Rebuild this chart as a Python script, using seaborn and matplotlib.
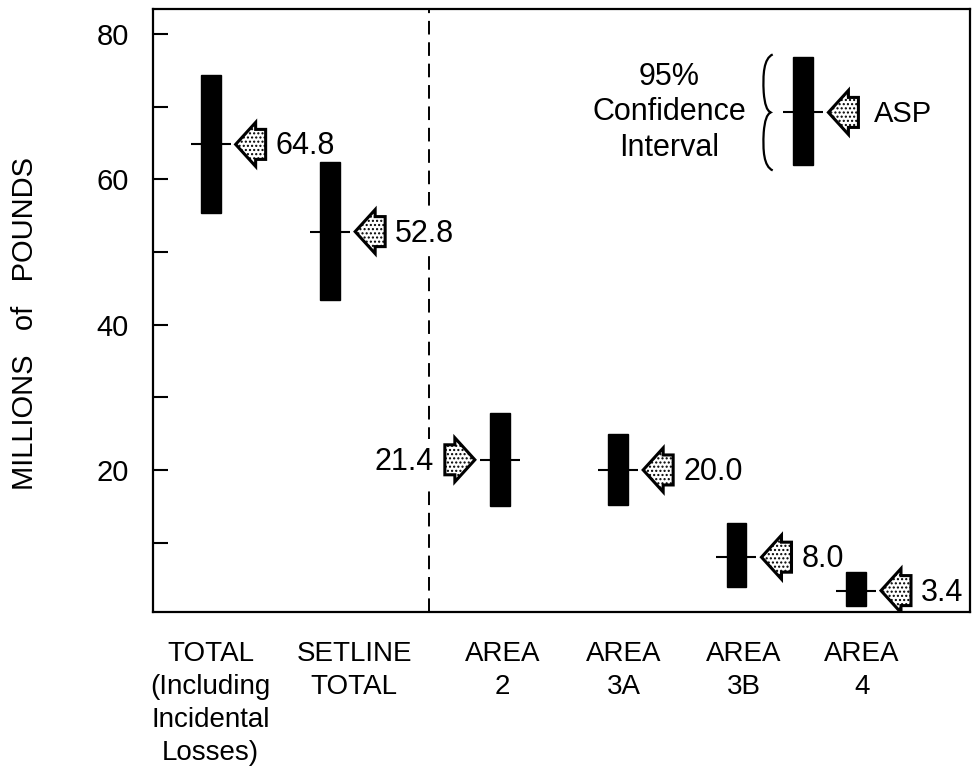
import numpy as np
import pandas as pd
import matplotlib
matplotlib.use("Agg")
import matplotlib.pyplot as plt
import matplotlib.transforms as mtransforms
from matplotlib.patches import Polygon, PathPatch
from matplotlib.path import Path
import seaborn as sns

# --- Data (millions of pounds) ---
categories = ["TOTAL\n(Including\nIncidental\nLosses)", "SETLINE\nTOTAL",
              "AREA\n2", "AREA\n3A", "AREA\n3B", "AREA\n4"]
asp = [64.8, 52.8, 21.4, 20.0, 8.0, 3.4]
ci_low = [55.4, 43.4, 15.0, 15.2, 3.9, 1.3]
ci_high = [74.4, 62.4, 27.9, 24.9, 12.7, 6.0]
value_labels = ["64.8", "52.8", "21.4", "20.0", "8.0", "3.4"]
arrow_side = ["right", "right", "left", "right", "right", "right"]

# key (legend) sample
key_low, key_mid, key_high = 62.0, 69.2, 76.8

# --- Layout ---
bar_x = [0, 1, 2.42, 3.41, 4.40, 5.40]
label_x = [0, 1.2, 2.44, 3.46, 4.46, 5.45]
divider_x = 1.83
key_x = 4.96
key_text_x = 3.84
brace_x = 4.653
BAR_W = 0.167

df = pd.DataFrame({"x": bar_x, "asp": asp, "low": ci_low, "high": ci_high,
                   "label": value_labels, "side": arrow_side})

sns.set_theme(style="white")
plt.rcParams["font.family"] = ["Liberation Sans", "DejaVu Sans"]
plt.rcParams["hatch.linewidth"] = 1.0
for key in ["text.color", "axes.labelcolor", "xtick.color", "ytick.color", "axes.edgecolor"]:
    plt.rcParams[key] = "black"

fig = plt.figure(figsize=(9.8, 7.8), dpi=100)
ax = fig.add_axes([0.1558, 0.2158, 0.834, 0.7733])
ax.set_xlim(-0.485, 6.354)
ax.set_ylim(0.5, 83.5)


def px_anchor(x, y, dx=0):
    # vertices given in pixels, anchored on a data point
    return mtransforms.Affine2D().translate(dx, 0) + mtransforms.ScaledTranslation(x, y, ax.transData)


def draw_arrow(x, y, side):
    verts = np.array([(0, 0), (20, 22), (20, 15), (30, 15), (30, -15), (20, -15), (20, -22)], float)
    if side == "left":
        verts[:, 0] *= -1
        dx = -25
    else:
        dx = 25
    ax.add_patch(Polygon(verts, closed=True, facecolor="white", edgecolor="black",
                         lw=2.2, hatch="....", joinstyle="miter",
                         transform=px_anchor(x, y, dx), zorder=4))


# confidence interval bars
ax.bar(df["x"], df["high"] - df["low"], bottom=df["low"], width=BAR_W,
       color="black", edgecolor="black", zorder=3)
ax.bar([key_x], [key_high - key_low], bottom=[key_low], width=BAR_W,
       color="black", edgecolor="black", zorder=3)

# ASP tick through each bar
sns.scatterplot(data=df, x="x", y="asp", marker="_", s=830, color="black",
                linewidth=1.5, ax=ax, zorder=2.6, legend=False)
sns.scatterplot(x=[key_x], y=[key_mid], marker="_", s=830, color="black",
                linewidth=1.5, ax=ax, zorder=2.6, legend=False)

# arrows + value labels (white box hides the dashed divider)
for _, r in df.iterrows():
    draw_arrow(r["x"], r["asp"], r["side"])
    if r["side"] == "left":
        tr = mtransforms.offset_copy(ax.transData, fig=fig, x=-66, y=-2, units="dots")
        ha = "right"
    else:
        tr = mtransforms.offset_copy(ax.transData, fig=fig, x=65, y=-2, units="dots")
        ha = "left"
    ax.text(r["x"], r["asp"], r["label"], transform=tr, ha=ha, va="center",
            fontsize=22, zorder=1.5,
            bbox=dict(boxstyle="square,pad=0.25", fc="white", ec="none"))

# key
draw_arrow(key_x, key_mid, "right")
ax.text(key_x, key_mid, "ASP", fontsize=21, ha="left", va="center",
        transform=mtransforms.offset_copy(ax.transData, fig=fig, x=71, y=-2, units="dots"))
ax.text(key_text_x, key_mid, "95%\nConfidence\nInterval", fontsize=22,
        ha="center", va="center", linespacing=1.25)
brace_verts = [(6, 58), (-3, 54), (-4, 38), (-3, 20),
               (-2, 8), (0, 2), (4, 0),
               (0, -2), (-2, -8), (-3, -20),
               (-4, -38), (-3, -54), (6, -58)]
brace_codes = [Path.MOVETO] + [Path.CURVE4] * 12
ax.add_patch(PathPatch(Path(brace_verts, brace_codes), fill=False, lw=1.6,
                       edgecolor="black", transform=px_anchor(brace_x, key_mid)))

# dashed divider
ax.axvline(divider_x, color="black", lw=1.4, ls=(0, (7, 4)), zorder=1)

# axes styling
ax.set_yticks([20, 40, 60, 80])
ax.set_yticks([10, 30, 50, 70], minor=True)
ax.set_xticks(label_x, labels=categories)
ax.tick_params(axis="y", which="both", direction="in", length=11, width=1.5,
               color="black", labelsize=21, pad=17, left=True)
ax.tick_params(axis="x", length=0, labelsize=20, pad=21)
for lab in ax.get_xticklabels():
    lab.set_linespacing(1.35)
for sp in ax.spines.values():
    sp.set_visible(True)
    sp.set_color("black")
    sp.set_linewidth(1.6)

ax.set_xlabel("")
ax.set_ylabel("MILLIONS   of   POUNDS", fontsize=21)
ax.yaxis.set_label_coords(-0.139, 0.477)

fig.savefig("out.png", dpi=100, facecolor="white")
